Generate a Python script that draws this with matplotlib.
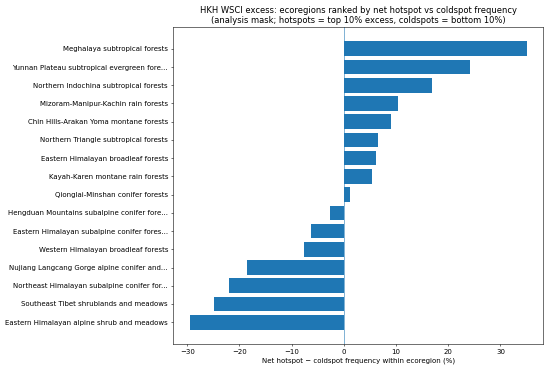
import matplotlib
matplotlib.use("Agg")
import matplotlib.pyplot as plt

ecoregions = [
    "Meghalaya subtropical forests",
    "Yunnan Plateau subtropical evergreen fore...",
    "Northern Indochina subtropical forests",
    "Mizoram-Manipur-Kachin rain forests",
    "Chin Hills-Arakan Yoma montane forests",
    "Northern Triangle subtropical forests",
    "Eastern Himalayan broadleaf forests",
    "Kayah-Karen montane rain forests",
    "Qionglai-Minshan conifer forests",
    "Hengduan Mountains subalpine conifer fore...",
    "Eastern Himalayan subalpine conifer fores...",
    "Western Himalayan broadleaf forests",
    "Nujiang Langcang Gorge alpine conifer and...",
    "Northeast Himalayan subalpine conifer for...",
    "Southeast Tibet shrublands and meadows",
    "Eastern Himalayan alpine shrub and meadows",
]
net_freq = [35.0, 24.2, 16.8, 10.4, 9.1, 6.6, 6.1, 5.4, 1.2,
            -2.6, -6.2, -7.6, -18.6, -21.9, -24.8, -29.5]

fig = plt.figure(figsize=(11, 7.42), dpi=50)
ax = fig.add_axes([0.3145, 0.073, 0.988 - 0.3145, 0.927 - 0.073])
ypos = list(range(len(ecoregions)))
ax.barh(ypos, net_freq, color="#1f77b4")
ax.set_yticks(ypos)
ax.set_yticklabels(ecoregions)
ax.invert_yaxis()
ax.axvline(0, linewidth=0.8)
ax.set_xlabel("Net hotspot \u2212 coldspot frequency within ecoregion (%)")
ax.set_title("HKH WSCI excess: ecoregions ranked by net hotspot vs coldspot frequency\n"
             "(analysis mask; hotspots = top 10% excess, coldspots = bottom 10%)")
fig.savefig("out.png", dpi=50)
